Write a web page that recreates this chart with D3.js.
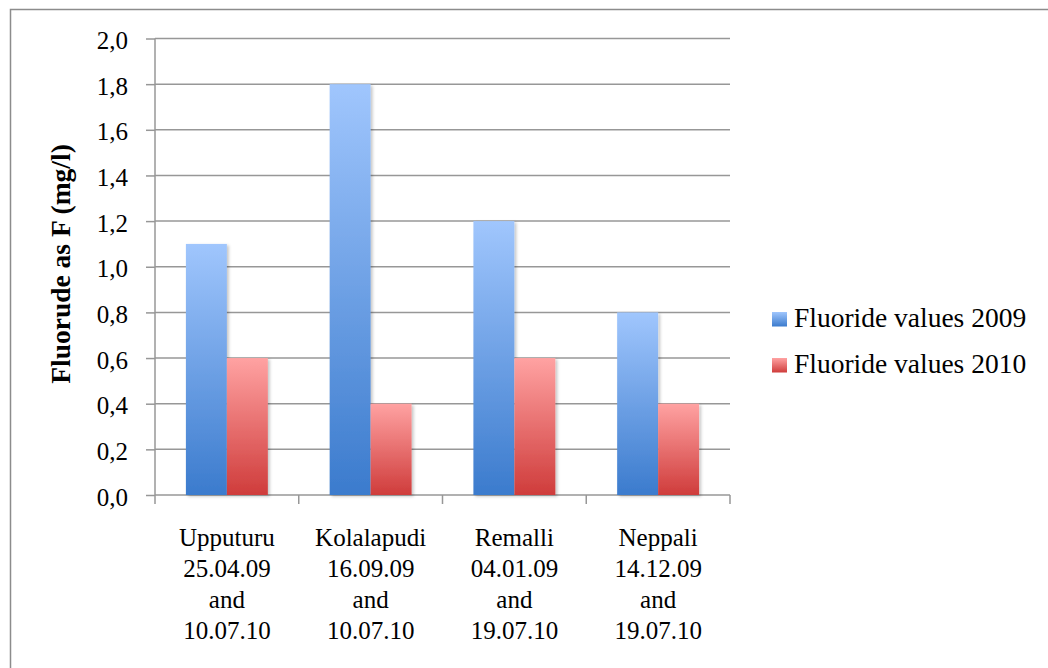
<!DOCTYPE html>
<html>
<head>
<meta charset="utf-8">
<script src="https://cdn.jsdelivr.net/npm/d3@7"></script>
<style>
  html, body { margin: 0; padding: 0; background: #fff; }
  svg { display: block; }
</style>
</head>
<body>
<svg id="chart" width="1048" height="668"></svg>
<script>
// Sampling sites (each label is split into lines)
const sites = [
  ["Upputuru", "25.04.09", "and", "10.07.10"],
  ["Kolalapudi", "16.09.09", "and", "10.07.10"],
  ["Remalli", "04.01.09", "and", "19.07.10"],
  ["Neppali", "14.12.09", "and", "19.07.10"]
];
const seriesNames = ["Fluoride values 2009", "Fluoride values 2010"];
const values2009 = [1.1, 1.8, 1.2, 0.8];
const values2010 = [0.6, 0.4, 0.6, 0.4];
const yTicks = [0, 0.2, 0.4, 0.6, 0.8, 1.0, 1.2, 1.4, 1.6, 1.8, 2.0];
const yTitle = "Fluorude as F (mg/l)";

const FONT = "'Liberation Serif', 'DejaVu Serif', serif";
const GRID = "#979797";
const svg = d3.select("#chart");

const plot = { left: 155, right: 730, top: 38.5, bottom: 495 };

// gradients for the two series
const defs = svg.append("defs");
const grads = [
  { id: "g2009", top: "#a0c6fd", bottom: "#3b7bcd" },
  { id: "g2010", top: "#ffa2a2", bottom: "#cf3c3b" }
];
grads.forEach(g => {
  const lg = defs.append("linearGradient").attr("id", g.id)
    .attr("x1", 0).attr("y1", 0).attr("x2", 0).attr("y2", 1);
  lg.append("stop").attr("offset", "0%").attr("stop-color", g.top);
  lg.append("stop").attr("offset", "100%").attr("stop-color", g.bottom);
});
const shadow = defs.append("filter").attr("id", "shadow")
  .attr("x", "-20%").attr("y", "-10%").attr("width", "150%").attr("height", "130%");
shadow.append("feDropShadow").attr("dx", 2).attr("dy", 1.5).attr("stdDeviation", 1.5)
  .attr("flood-color", "#000").attr("flood-opacity", 0.22);

// outer frame
svg.append("rect").attr("x", 10.5).attr("y", 9.5).attr("width", 1060).attr("height", 700)
  .attr("fill", "none").attr("stroke", "#8c8c8c").attr("stroke-width", 1.5);

const x0 = d3.scaleBand().domain(d3.range(sites.length))
  .range([plot.left, plot.right]).paddingInner(0.43).paddingOuter(0.215);
const x1 = d3.scaleBand().domain([0, 1]).range([0, x0.bandwidth()]);
const y = d3.scaleLinear().domain([0, 2.0]).range([plot.bottom, plot.top]);

// horizontal gridlines
svg.append("g").selectAll("line").data(yTicks.slice(1)).join("line")
  .attr("x1", plot.left).attr("x2", plot.right)
  .attr("y1", d => y(d)).attr("y2", d => y(d))
  .attr("stroke", GRID).attr("stroke-width", 1.5);

// y axis
const yAxis = svg.append("g").attr("transform", `translate(${plot.left},0)`)
  .call(d3.axisLeft(y).tickValues(yTicks).tickSize(9).tickPadding(18)
    .tickFormat(d => d3.format(".1f")(d).replace(".", ",")));
yAxis.selectAll("line").attr("stroke", GRID).attr("stroke-width", 1.5);
yAxis.select(".domain").attr("stroke", GRID).attr("stroke-width", 1.5).attr("d", `M0,${plot.top}V${plot.bottom}`);
yAxis.selectAll("text").attr("font-family", FONT).attr("font-size", 25).attr("fill", "#000").attr("dy", "0.4em");

// x axis
const xAxisG = svg.append("g").attr("transform", `translate(0,${plot.bottom})`);
xAxisG.append("line").attr("x1", plot.left).attr("x2", plot.right)
  .attr("stroke", GRID).attr("stroke-width", 1.5);
const boundaries = d3.range(sites.length + 1).map(i => plot.left + i * (plot.right - plot.left) / sites.length);
xAxisG.selectAll("line.tick").data(boundaries).join("line").attr("class", "tick")
  .attr("x1", d => d).attr("x2", d => d).attr("y1", 0).attr("y2", 9)
  .attr("stroke", GRID).attr("stroke-width", 1.5);

// category labels
const labels = svg.append("g").selectAll("text").data(sites).join("text")
  .attr("x", (d, i) => x0(i) + x0.bandwidth() / 2)
  .attr("y", 545.5)
  .attr("text-anchor", "middle")
  .attr("font-family", FONT).attr("font-size", 25).attr("fill", "#000");
labels.selectAll("tspan").data(d => d).join("tspan")
  .attr("x", function () { return d3.select(this.parentNode).attr("x"); })
  .attr("dy", (d, i) => i === 0 ? 0 : 31.3)
  .text(d => d);

// bars
const seriesData = [values2009, values2010];
seriesData.forEach((vals, s) => {
  svg.append("g").selectAll("rect").data(vals).join("rect")
    .attr("x", (d, i) => x0(i) + x1(s))
    .attr("y", d => y(d))
    .attr("width", x1.bandwidth())
    .attr("height", d => y(0) - y(d))
    .attr("fill", `url(#${grads[s].id})`)
    .attr("filter", "url(#shadow)");
});

// y axis title
svg.append("text")
  .attr("transform", `translate(70,264) rotate(-90)`)
  .attr("text-anchor", "middle")
  .attr("font-family", FONT).attr("font-size", 27.5).attr("font-weight", "bold")
  .text(yTitle);

// legend
const legend = svg.append("g").selectAll("g").data(seriesNames).join("g")
  .attr("transform", (d, i) => `translate(772,${312 + i * 46})`);
legend.append("rect").attr("width", 15).attr("height", 14.5)
  .attr("fill", (d, i) => `url(#${grads[i].id})`);
legend.append("text").attr("x", 22).attr("y", 14.5)
  .attr("font-family", FONT).attr("font-size", 27.5).attr("fill", "#000")
  .text(d => d);
</script>
</body>
</html>
